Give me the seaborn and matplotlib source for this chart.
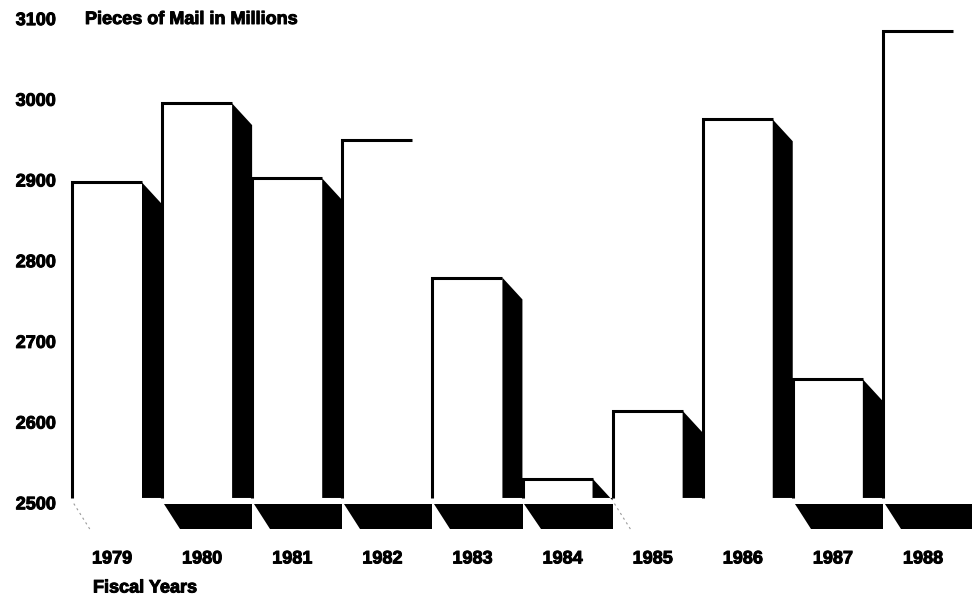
import matplotlib
matplotlib.use("Agg")
import matplotlib.pyplot as plt
import matplotlib.patheffects as pe
from matplotlib.patches import Polygon
from matplotlib.transforms import ScaledTranslation
import pandas as pd
import seaborn as sns

# Fiscal-year mail volume, pieces of mail in millions
years = ["1979", "1980", "1981", "1982", "1983", "1984", "1985", "1986", "1987", "1988"]
pieces_millions = [2897, 2995, 2902, 2949, 2779, 2530, 2614, 2975, 2653, 3085]
y_ticks = [2500, 2600, 2700, 2800, 2900, 3000, 3100]

BASE = 2500
# faces that dropped out of the printed original
no_side = {"1982", "1988"}
no_floor = {"1979", "1985", "1986"}
faint_floor = {"1979", "1985"}

sns.set_theme(style="white")
plt.rcParams["font.family"] = ["Liberation Sans", "DejaVu Sans"]
plt.rcParams["font.weight"] = "bold"

heavy = [pe.withStroke(linewidth=0.7, foreground="black")]

fig = plt.figure(figsize=(9.72, 6.01), dpi=100)
fig.patch.set_facecolor("white")
ax = fig.add_axes([60 / 972, 1 - 540 / 601, 912 / 972, 540 / 601])
ax.set_facecolor("white")

df = pd.DataFrame({"year": years, "pieces": pieces_millions})
sns.barplot(data=df, x="year", y="pieces", color="white", saturation=1,
            width=0.777, linewidth=0, ax=ax, zorder=1)

ax.set_xlim(-0.5216, 9.600)
ax.set_ylim(2453.9, 3123.05)

side_w = 0.222      # depth of the right-hand face, in category units
bevel = 27          # vertical drop of the bevelled top of that face
gap = 6             # white gap between bar bottoms and the floor
floor_depth = 33

for patch, year in zip(ax.patches, years):
    left = patch.get_x()
    right = left + patch.get_width()
    top = patch.get_y() + patch.get_height()

    # front outline: left edge and top edge
    ax.plot([left, left, right], [BASE + gap, top, top], color="black",
            lw=2.2, solid_joinstyle="miter", solid_capstyle="butt", zorder=3)

    # shaded right-hand face with bevelled top
    if year not in no_side:
        ax.add_patch(Polygon([(right, top), (right + side_w, top - bevel),
                              (right + side_w, BASE + gap), (right, BASE + gap)],
                             closed=True, facecolor="black", edgecolor="none", zorder=2))

    # floor shadow cast below the baseline
    if year not in no_floor:
        ax.add_patch(Polygon([(left + 0.02, BASE - 1), (left + 1.0, BASE - 1),
                              (left + 1.0, BASE - floor_depth), (left + 0.2, BASE - floor_depth)],
                             closed=True, facecolor="black", edgecolor="none", zorder=2))
    elif year in faint_floor:
        ax.plot([left + 0.02, left + 0.2], [BASE - 1, BASE - floor_depth],
                color="#9a9a9a", lw=0.8, ls=(0, (2, 3)), zorder=2)

ax.set_yticks(y_ticks)
ax.set_yticklabels([str(v) for v in y_ticks])
ax.tick_params(axis="y", length=0, pad=2.9, labelsize=13, colors="black")
ax.tick_params(axis="x", length=0, pad=7.5, labelsize=13, colors="black")
shift = ScaledTranslation(5 / 100, 0, fig.dpi_scale_trans)
for lbl in ax.get_xticklabels():
    lbl.set_transform(lbl.get_transform() + shift)
    lbl.set_path_effects(heavy)
for lbl in ax.get_yticklabels():
    lbl.set_path_effects(heavy)

ax.set_xlabel("")
ax.set_ylabel("")
for s in ax.spines.values():
    s.set_visible(False)
ax.grid(False)

fig.text(85 / 972, 1 - 19.5 / 601, "Pieces of Mail in Millions", fontsize=13,
         fontweight="bold", ha="left", va="center", color="black", path_effects=heavy)
fig.text(93 / 972, 1 - 588 / 601, "Fiscal Years", fontsize=13,
         fontweight="bold", ha="left", va="center", color="black", path_effects=heavy)

fig.savefig("out.png", dpi=100, facecolor="white")
